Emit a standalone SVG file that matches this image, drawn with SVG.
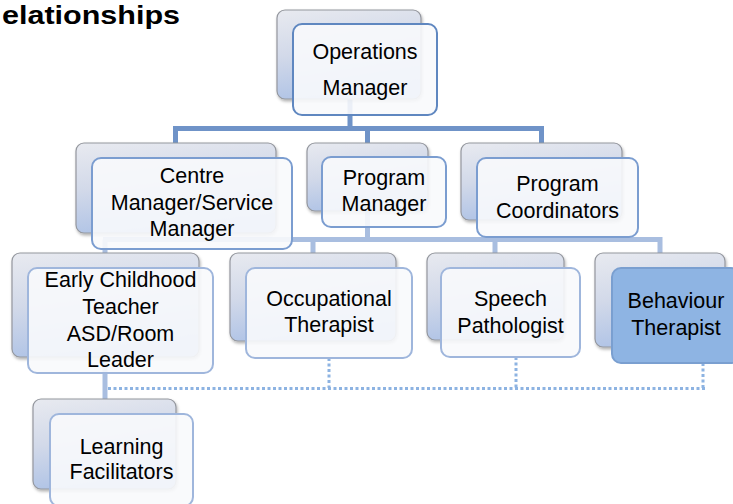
<svg xmlns="http://www.w3.org/2000/svg" width="733" height="504" viewBox="0 0 733 504">
<defs>
<linearGradient id="bg" x1="0" y1="0" x2="0.25" y2="1">
<stop offset="0" stop-color="#e8eaf0"/>
<stop offset="0.5" stop-color="#d2d9e9"/>
<stop offset="1" stop-color="#afc3e6"/>
</linearGradient>
<filter id="sh" x="-10%" y="-10%" width="125%" height="130%">
<feDropShadow dx="1" dy="2" stdDeviation="1.5" flood-color="#000" flood-opacity="0.3"/>
</filter>
<style>
.back{fill:url(#bg);stroke:#94979e;stroke-width:1.2;filter:url(#sh)}
.front{fill:#f8f9fc;fill-opacity:0.9;stroke:#9fb6dc;stroke-width:2}
.f1{stroke:#5f87c0}
.f2{stroke:#7b9dd0}
.blue{fill:#8eb4e3;fill-opacity:1;stroke:#7a9fd0}
.t{font-family:"Liberation Sans",Arial,sans-serif;font-size:21.5px;fill:#000;text-anchor:middle}
.c1{stroke:#6f93c8;stroke-width:5;fill:none}
.c2{stroke:#a9bee0;stroke-width:5;fill:none}
.dot{stroke:#8db3e2;stroke-width:3;stroke-dasharray:3 2.5;fill:none}
</style>
</defs>
<rect width="733" height="504" fill="#fff"/>
<text x="2" y="24" font-family="Liberation Sans,Arial,sans-serif" font-weight="bold" font-size="25" textLength="178" lengthAdjust="spacingAndGlyphs">elationships</text>
<g id="connectors">
<path class="c1" d="M350 99V128.5M173 128.5H544M175.5 128.5V143M367.5 128.5V143M541.5 128.5V143"/>
<path class="c2" d="M367.5 211V239.5M103 239.5H662.5M105 239.5V253M313 239.5V253M495 239.5V253M660 239.5V253"/>
<path class="c2" d="M105 357V399"/>
<path class="dot" d="M108 388.5H705M329 358V388M516 357V388M703 363V388"/>
</g>
<g id="operations-manager">
<rect class="back" x="277" y="10" width="144" height="89" rx="8"/>
<rect class="front f1" x="293" y="24" width="144" height="91" rx="9"/>
<text class="t" x="365" y="59">Operations</text>
<text class="t" x="365" y="95">Manager</text>
</g>
<g id="centre-manager">
<rect class="back" x="76" y="143" width="200" height="90" rx="8"/>
<rect class="front f2" x="92" y="158" width="200" height="91" rx="9"/>
<text class="t" x="192" y="183">Centre</text>
<text class="t" x="192" y="210">Manager/Service</text>
<text class="t" x="192" y="236">Manager</text>
</g>
<g id="program-manager">
<rect class="back" x="307" y="143" width="121" height="68" rx="8"/>
<rect class="front f2" x="322" y="157" width="124" height="70" rx="9"/>
<text class="t" x="384" y="185">Program</text>
<text class="t" x="384" y="211">Manager</text>
</g>
<g id="program-coordinators">
<rect class="back" x="461" y="143" width="161" height="77" rx="8"/>
<rect class="front f2" x="477" y="158" width="161" height="79" rx="9"/>
<text class="t" x="557.5" y="191">Program</text>
<text class="t" x="557.5" y="218">Coordinators</text>
</g>
<g id="early-childhood-teacher">
<rect class="back" x="12" y="253" width="187" height="104" rx="8"/>
<rect class="front" x="28" y="268" width="185" height="105" rx="9"/>
<text class="t" x="120.5" y="287">Early Childhood</text>
<text class="t" x="120.5" y="314">Teacher</text>
<text class="t" x="120.5" y="341">ASD/Room</text>
<text class="t" x="120.5" y="367">Leader</text>
</g>
<g id="occupational-therapist">
<rect class="back" x="230" y="253" width="166" height="88" rx="8"/>
<rect class="front" x="246" y="268" width="166" height="90" rx="9"/>
<text class="t" x="329" y="306">Occupational</text>
<text class="t" x="329" y="332">Therapist</text>
</g>
<g id="speech-pathologist">
<rect class="back" x="427" y="253" width="137" height="87" rx="8"/>
<rect class="front" x="441" y="268" width="139" height="89" rx="9"/>
<text class="t" x="510.5" y="306">Speech</text>
<text class="t" x="510.5" y="333">Pathologist</text>
</g>
<g id="behaviour-therapist">
<rect class="back" x="595" y="253" width="130" height="94" rx="8"/>
<rect class="front blue" x="612" y="268" width="128" height="95" rx="9"/>
<text class="t" x="676" y="308">Behaviour</text>
<text class="t" x="676" y="335">Therapist</text>
</g>
<g id="learning-facilitators">
<rect class="back" x="33" y="399" width="143" height="90" rx="8"/>
<rect class="front" x="50" y="414" width="143" height="92" rx="9"/>
<text class="t" x="121.5" y="454">Learning</text>
<text class="t" x="121.5" y="479">Facilitators</text>
</g>
</svg>
